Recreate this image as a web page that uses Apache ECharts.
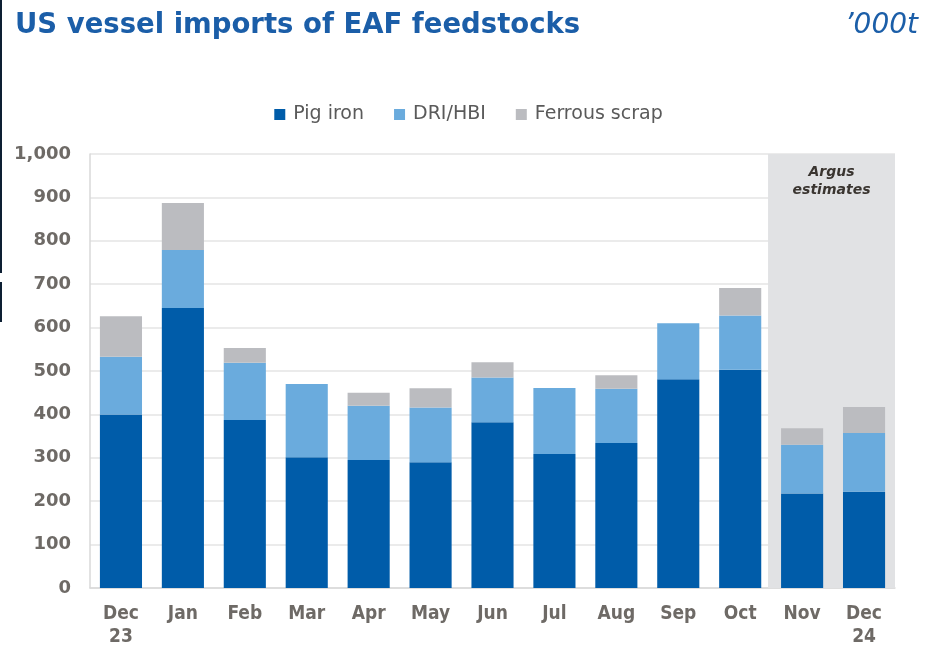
<!DOCTYPE html>
<html>
<head>
<meta charset="utf-8">
<script src="https://cdn.jsdelivr.net/npm/echarts@6/dist/echarts.min.js"></script>
<style>
html,body{margin:0;padding:0;background:#fff;}
#chart{width:937px;height:649px;}
</style>
</head>
<body>
<div id="chart"></div>
<script>
const categories = ['Dec\n23','Jan','Feb','Mar','Apr','May','Jun','Jul','Aug','Sep','Oct','Nov','Dec\n24'];
const pigIron = [400, 645, 387, 301, 295, 290, 382, 309, 334, 481, 503, 218, 222];
const driHbi = [133, 134, 132, 169, 125, 126, 103, 152, 125, 129, 125, 112, 135];
const ferrousScrap = [93, 108, 34, 0, 30, 44, 35, 0, 31, 0, 63, 38, 60];
const yTicks = [0, 1000, 100];
const estimateStart = 10.95;
const estimateEnd = 13;

const chart = echarts.init(document.getElementById('chart'), null, {renderer:'canvas'});
const condFont = 'DejaVu Sans Condensed';
const labelColor = '#6e6a66';

chart.setOption({
  animation: false,
  backgroundColor: '#ffffff',
  title: [
    {text: 'US vessel imports of EAF feedstocks', left: 10, top: 7,
     textStyle: {fontFamily: 'DejaVu Sans', fontWeight: 'bold', fontSize: 27.5, color: '#1b5ea8'}},
    {text: '\u2019000t', right: 14, top: 7,
     textStyle: {fontFamily: 'DejaVu Sans', fontStyle: 'italic', fontWeight: 'normal', fontSize: 28, color: '#1b5ea8'}}
  ],
  legend: {
    top: 100, left: 'center',
    itemWidth: 11, itemHeight: 11, itemGap: 30,
    icon: 'rect',
    textStyle: {fontFamily: 'DejaVu Sans', fontSize: 19, color: '#5a5a5a', padding: [0,0,0,3]},
    data: ['Pig iron', 'DRI/HBI', 'Ferrous scrap']
  },
  grid: {left: 90, right: 42, top: 154, bottom: 61, containLabel: false},
  xAxis: [
    {type: 'category', data: categories,
     axisLine: {show: true, lineStyle: {color: '#d9d9d9', width: 1.5}},
     axisTick: {show: false},
     axisLabel: {fontFamily: condFont, fontWeight: 'bold', fontSize: 19, color: labelColor, margin: 15, lineHeight: 23, interval: 0}},
    {type: 'value', min: 0, max: categories.length, show: false}
  ],
  yAxis: {
    type: 'value', min: yTicks[0], max: yTicks[1], interval: yTicks[2],
    axisLine: {show: true, lineStyle: {color: '#d9d9d9', width: 1.5}},
    axisTick: {show: false},
    splitLine: {lineStyle: {color: '#e5e5e5', width: 1.5}},
    axisLabel: {fontFamily: 'DejaVu Sans', fontWeight: 'bold', fontSize: 18, color: labelColor, margin: 19,
      formatter: v => v.toLocaleString('en-US')}
  },
  series: [
    {name: 'estimates', type: 'line', xAxisIndex: 1, data: [], silent: true, z: 0, clip: false,
     markArea: {silent: true,
       itemStyle: {color: '#e1e2e4'},
       label: {show: true, position: 'insideTop', distance: 9, formatter: 'Argus\nestimates',
         fontFamily: 'DejaVu Sans', fontStyle: 'italic', fontWeight: 'bold', fontSize: 14, lineHeight: 18, color: '#3a3530'},
       data: [[{xAxis: estimateStart, yAxis: 1009}, {xAxis: estimateEnd, yAxis: -5}]]}},
    {name: 'Pig iron', type: 'bar', stack: 'total', data: pigIron, barWidth: '68%',
     itemStyle: {color: '#005ca9'}, z: 2},
    {name: 'DRI/HBI', type: 'bar', stack: 'total', data: driHbi, barWidth: '68%',
     itemStyle: {color: '#6aabdd'}, z: 2},
    {name: 'Ferrous scrap', type: 'bar', stack: 'total', data: ferrousScrap, barWidth: '68%',
     itemStyle: {color: '#bbbcc0'}, z: 2}
  ],
  graphic: [
    {type: 'rect', left: 0, top: 0, shape: {width: 2, height: 273}, style: {fill: '#0d1f33'}},
    {type: 'rect', left: 0, top: 282, shape: {width: 2, height: 40}, style: {fill: '#0d1f33'}}
  ]
});
</script>
</body>
</html>
